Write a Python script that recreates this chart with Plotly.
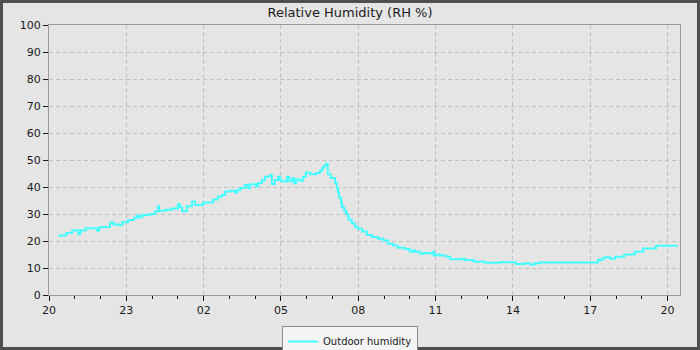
import plotly.graph_objects as go

# ---- data ----
times = [
    "2024-03-01 20:21", "2024-03-01 20:40", "2024-03-01 20:54", "2024-03-01 21:08", "2024-03-01 21:12",
    "2024-03-01 21:14", "2024-03-01 21:26", "2024-03-01 21:52", "2024-03-01 21:56", "2024-03-01 21:59",
    "2024-03-01 22:22", "2024-03-01 22:29", "2024-03-01 22:41", "2024-03-01 22:50", "2024-03-01 23:04",
    "2024-03-01 23:18", "2024-03-01 23:25", "2024-03-01 23:30", "2024-03-01 23:37", "2024-03-01 23:55",
    "2024-03-02 00:07", "2024-03-02 00:14", "2024-03-02 00:16", "2024-03-02 00:32", "2024-03-02 00:46",
    "2024-03-02 01:00", "2024-03-02 01:05", "2024-03-02 01:10", "2024-03-02 01:21", "2024-03-02 01:33",
    "2024-03-02 01:40", "2024-03-02 01:59", "2024-03-02 02:22", "2024-03-02 02:33", "2024-03-02 02:43",
    "2024-03-02 02:50", "2024-03-02 03:01", "2024-03-02 03:13", "2024-03-02 03:18", "2024-03-02 03:25",
    "2024-03-02 03:36", "2024-03-02 03:43", "2024-03-02 03:48", "2024-03-02 04:02", "2024-03-02 04:07",
    "2024-03-02 04:16", "2024-03-02 04:23", "2024-03-02 04:34", "2024-03-02 04:39", "2024-03-02 04:46",
    "2024-03-02 04:53", "2024-03-02 04:58", "2024-03-02 05:02", "2024-03-02 05:14", "2024-03-02 05:19",
    "2024-03-02 05:26", "2024-03-02 05:30", "2024-03-02 05:35", "2024-03-02 05:44", "2024-03-02 05:51",
    "2024-03-02 05:58", "2024-03-02 06:08", "2024-03-02 06:22", "2024-03-02 06:31", "2024-03-02 06:36",
    "2024-03-02 06:40", "2024-03-02 06:45", "2024-03-02 06:49", "2024-03-02 06:56", "2024-03-02 07:06",
    "2024-03-02 07:10", "2024-03-02 07:13", "2024-03-02 07:15", "2024-03-02 07:20", "2024-03-02 07:22",
    "2024-03-02 07:27", "2024-03-02 07:31", "2024-03-02 07:36", "2024-03-02 07:38", "2024-03-02 07:45",
    "2024-03-02 07:52", "2024-03-02 07:59", "2024-03-02 08:09", "2024-03-02 08:20", "2024-03-02 08:32",
    "2024-03-02 08:46", "2024-03-02 08:58", "2024-03-02 09:09", "2024-03-02 09:21", "2024-03-02 09:32",
    "2024-03-02 09:49", "2024-03-02 10:00", "2024-03-02 10:07", "2024-03-02 10:12", "2024-03-02 10:24",
    "2024-03-02 10:33", "2024-03-02 10:47", "2024-03-02 10:54", "2024-03-02 10:56", "2024-03-02 11:01",
    "2024-03-02 11:10", "2024-03-02 11:24", "2024-03-02 11:34", "2024-03-02 12:01", "2024-03-02 12:08",
    "2024-03-02 12:29", "2024-03-02 12:55", "2024-03-02 13:30", "2024-03-02 14:07", "2024-03-02 14:28",
    "2024-03-02 14:40", "2024-03-02 14:51", "2024-03-02 15:03", "2024-03-02 17:18", "2024-03-02 17:27",
    "2024-03-02 17:34", "2024-03-02 17:46", "2024-03-02 17:58", "2024-03-02 18:19", "2024-03-02 18:44",
    "2024-03-02 19:03", "2024-03-02 19:33", "2024-03-02 20:22",
]
humidity = [
    22.0, 23.0, 24.0, 22.5, 23.2,
    24.0, 24.7, 23.8, 24.7, 25.2,
    26.9, 26.2, 25.8, 26.9, 27.8,
    28.6, 29.4, 28.8, 29.6, 30.0,
    31.0, 33.0, 31.2, 31.6, 32.0,
    33.6, 32.5, 31.0, 32.9, 34.6,
    33.3, 34.3, 35.4, 36.5, 37.0,
    38.3, 38.6, 38.0, 38.8, 39.6,
    40.7, 39.5, 41.0, 40.2, 41.5,
    42.6, 43.8, 44.4, 41.1, 42.6,
    43.8, 42.6, 42.0, 43.8, 42.2,
    43.2, 41.4, 42.8, 42.3, 43.8,
    45.4, 44.7, 45.2, 46.0, 47.0,
    48.0, 48.6, 44.7, 43.3, 41.5,
    39.5, 38.0, 36.0, 34.0, 32.6,
    31.4, 30.2, 29.1, 27.9, 26.6,
    25.3, 24.5, 23.5, 22.2, 21.5,
    20.8, 20.2, 19.0, 18.3, 17.5,
    17.0, 16.0, 16.5, 16.0, 15.3,
    15.6, 15.3, 16.0, 14.6, 15.0,
    14.6, 14.2, 13.2, 13.4, 13.0,
    12.3, 11.9, 12.1, 11.5, 11.8,
    11.3, 11.8, 12.0, 13.0, 13.5,
    14.0, 13.4, 14.2, 15.0, 16.0,
    17.2, 18.2, 18.3,
]
series_name = "Outdoor humidity"
title_text = "Relative Humidity (RH %)"
x_range = ["2024-03-01 20:00", "2024-03-02 20:29"]

BG = "#e5e5e5"
GRID = "#c0c0c0"
AXIS = "#999999"
INK = "#1a1a1a"
FONT = "DejaVu Sans"

fig = go.Figure()
fig.add_trace(go.Scatter(
    x=times, y=humidity, mode="lines", name=series_name,
    line=dict(color="#44ffff", width=2, shape="hv"),
))

W, H = 700, 350
ml, mr, mt, mb = 49, 20, 25, 55
pw, ph = W - ml - mr, H - mt - mb

fig.update_layout(
    width=W, height=H,
    margin=dict(l=ml, r=mr, t=mt, b=mb, pad=0, autoexpand=False),
    paper_bgcolor=BG, plot_bgcolor=BG,
    font=dict(family=FONT, size=11, color=INK),
    title=dict(text=title_text, x=0.5, xanchor="center", y=1 - 12 / H, yanchor="middle",
               font=dict(family=FONT, size=13, color=INK)),
    showlegend=True,
    legend=dict(
        orientation="h", x=(350 - ml) / pw, xanchor="center", y=-(326 - 295) / ph, yanchor="top",
        bgcolor="#f4f4f4", bordercolor="#8a8a8a", borderwidth=1,
        font=dict(family=FONT, size=10, color=INK),
        itemwidth=30,
    ),
    xaxis=dict(
        type="date", range=x_range,
        tick0="2024-03-01 20:00", dtick=3 * 3600000, tickformat="%H",
        showgrid=True, gridcolor=GRID, griddash="4px,3px", gridwidth=1,
        showline=True, linecolor=AXIS, linewidth=1, mirror=True,
        ticks="outside", ticklen=5, tickcolor=INK, tickwidth=1,
        tickfont=dict(family=FONT, size=11, color=INK),
        minor=dict(dtick=3600000, ticks="outside", ticklen=3, tickcolor=INK, showgrid=False),
        zeroline=False, fixedrange=True,
    ),
    yaxis=dict(
        range=[0, 100], dtick=10, tick0=0,
        showgrid=True, gridcolor=GRID, griddash="4px,3px", gridwidth=1,
        showline=True, linecolor=AXIS, linewidth=1, mirror=True,
        ticks="outside", ticklen=5, tickcolor=INK, tickwidth=1,
        tickfont=dict(family=FONT, size=11, color=INK),
        zeroline=False, fixedrange=True,
    ),
)

# outer dark frame
fig.add_shape(
    type="rect", xref="paper", yref="paper",
    x0=-ml / pw, x1=1 + mr / pw, y0=-mb / ph, y1=1 + mt / ph,
    line=dict(color="#4f4f4f", width=6), fillcolor="rgba(0,0,0,0)", layer="above",
)

fig.write_html("out.html")
